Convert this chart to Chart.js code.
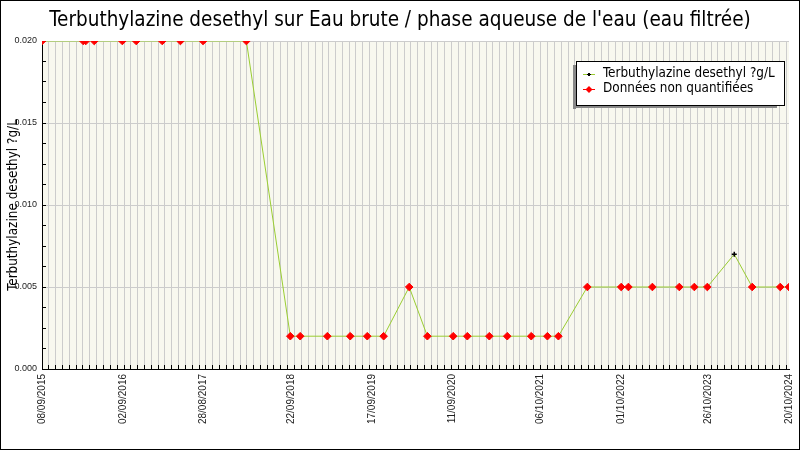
<!DOCTYPE html>
<html>
<head>
<meta charset="utf-8">
<script src="https://cdn.jsdelivr.net/npm/chart.js@4.4.1/dist/chart.umd.min.js"></script>
<style>
  html, body { margin: 0; padding: 0; background: #fff; }
  #wrap { width: 800px; height: 450px; }
</style>
</head>
<body>
<div id="wrap"><canvas id="chart" width="800" height="450"></canvas></div>
<script>
// Chart data
const chartTitle = "Terbuthylazine desethyl sur Eau brute / phase aqueuse de l'eau (eau filtrée)";
const seriesLabel = 'Terbuthylazine desethyl ?g/L';
const nqLabel = 'Données non quantifiées';

const sampleDates = [
  '2015-09-08', '2016-03-10', '2016-03-21', '2016-04-28', '2016-08-31', '2016-11-01',
  '2017-02-25', '2017-05-17', '2017-08-26', '2018-03-07', '2018-09-19', '2018-11-02',
  '2019-03-03', '2019-06-13', '2019-08-28', '2019-11-09', '2020-03-02', '2020-05-22',
  '2020-09-14', '2020-11-16', '2021-02-22', '2021-05-13', '2021-08-28', '2021-11-08',
  '2021-12-27', '2022-05-05', '2022-10-03', '2022-11-04', '2023-02-19', '2023-06-19',
  '2023-08-25', '2023-10-22', '2024-02-19', '2024-05-09', '2024-09-11', '2024-10-20'
];
const sampleValues = [
  0.020, 0.020, 0.020, 0.020, 0.020, 0.020,
  0.020, 0.020, 0.020, 0.020, 0.002, 0.002,
  0.002, 0.002, 0.002, 0.002, 0.005, 0.002,
  0.002, 0.002, 0.002, 0.002, 0.002, 0.002,
  0.002, 0.005, 0.005, 0.005, 0.005, 0.005,
  0.005, 0.005, 0.007, 0.005, 0.005, 0.005
];
// true = quantified value, false = below quantification limit
const quantified = [
  false, false, false, false, false, false,
  false, false, false, false, false, false,
  false, false, false, false, false, false,
  false, false, false, false, false, false,
  false, false, false, false, false, false,
  false, false, true, false, false, false
];
const xTickLabels = [
  '08/09/2015', '02/09/2016', '28/08/2017', '22/09/2018', '17/09/2019',
  '11/09/2020', '06/10/2021', '01/10/2022', '26/10/2023', '20/10/2024'
];
const yMin = 0;
const yMax = 0.020;
const yMajorStep = 0.005;
const yMinorStep = 0.00125;

// helpers: dates -> day number from the first axis label
const DAY = 86400000;
function parseFr(s) {
  const [d, m, y] = s.split('/').map(Number);
  return Date.UTC(y, m - 1, d);
}
function parseIso(s) {
  const [y, m, d] = s.split('-').map(Number);
  return Date.UTC(y, m - 1, d);
}
const startMs = parseFr(xTickLabels[0]);
const endDay = (parseFr(xTickLabels[xTickLabels.length - 1]) - startMs) / DAY;
const toDay = ms => Math.round((ms - startMs) / DAY);

const allPoints = sampleDates.map((d, i) => ({ x: toDay(parseIso(d)), y: sampleValues[i] }));
const nqPoints = allPoints.filter((p, i) => !quantified[i]);

// monthly grid ticks + labelled ticks
function buildXTicks() {
  const map = new Map();
  const s = new Date(startMs);
  for (let k = 0; ; k++) {
    const v = toDay(Date.UTC(s.getUTCFullYear(), s.getUTCMonth() + k, s.getUTCDate()));
    if (v > endDay) break;
    map.set(v, { value: v, grid: true, text: '' });
  }
  xTickLabels.forEach(lbl => {
    const v = toDay(parseFr(lbl));
    const t = map.get(v) || { value: v, grid: false, text: '' };
    t.text = lbl;
    map.set(v, t);
  });
  return Array.from(map.values()).sort((a, b) => a.value - b.value);
}

function buildYTicks() {
  const ticks = [];
  const n = Math.round((yMax - yMin) / yMinorStep);
  for (let k = 0; k <= n; k++) {
    const v = yMin + k * yMinorStep;
    const r = v / yMajorStep;
    ticks.push({ value: v, major: Math.abs(r - Math.round(r)) < 1e-6 });
  }
  return ticks;
}

const SANS = '"DejaVu Sans Condensed", "DejaVu Sans", sans-serif';
const LEGEND_FONT = '13.4px ' + SANS;

const frame = {
  id: 'frame',
  beforeDraw(chart) {
    const { ctx, chartArea: a } = chart;
    ctx.save();
    ctx.fillStyle = '#ffffff';
    ctx.fillRect(0, 0, chart.width, chart.height);
    ctx.fillStyle = '#f8f8ef';
    ctx.fillRect(a.left, a.top, a.right - a.left, a.bottom - a.top);
    ctx.restore();
  },
  afterDraw(chart) {
    const { ctx } = chart;
    ctx.save();
    // outer border
    ctx.strokeStyle = '#000';
    ctx.lineWidth = 1;
    ctx.strokeRect(0.5, 0.5, chart.width - 1, chart.height - 1);

    // legend box
    const bx = 576, by = 61, bw = 208, bh = 44;
    ctx.fillStyle = '#888888';
    ctx.fillRect(bx - 3, by + 4, 3, bh);
    ctx.fillRect(bx - 3, by + bh, bw - 4, 3);
    ctx.fillStyle = '#ffffff';
    ctx.fillRect(bx, by, bw, bh);
    ctx.strokeStyle = '#000';
    ctx.strokeRect(bx + 0.5, by + 0.5, bw, bh);

    const rows = [
      { text: seriesLabel, line: '#9acd32', mark: 'dot', y: by + 13 },
      { text: nqLabel, line: '#ff0000', mark: 'diamond', y: by + 28 }
    ];
    rows.forEach(r => {
      ctx.strokeStyle = r.line;
      ctx.lineWidth = 1;
      ctx.beginPath();
      ctx.moveTo(bx + 7, r.y + 0.5);
      ctx.lineTo(bx + 19, r.y + 0.5);
      ctx.stroke();
      if (r.mark === 'dot') {
        ctx.fillStyle = '#000';
        ctx.fillRect(bx + 12, r.y - 1, 2, 3);
        ctx.fillRect(bx + 11, r.y, 4, 1);
      } else {
        ctx.fillStyle = '#ff0000';
        ctx.beginPath();
        ctx.moveTo(bx + 13, r.y - 3);
        ctx.lineTo(bx + 16.5, r.y + 0.5);
        ctx.lineTo(bx + 13, r.y + 4);
        ctx.lineTo(bx + 9.5, r.y + 0.5);
        ctx.closePath();
        ctx.fill();
      }
      ctx.fillStyle = '#000';
      ctx.font = LEGEND_FONT;
      ctx.textBaseline = 'middle';
      ctx.textAlign = 'left';
      ctx.fillText(r.text, bx + 27, r.y);
    });
    ctx.restore();
  }
};

new Chart(document.getElementById('chart'), {
  type: 'scatter',
  data: {
    datasets: [
      {
        label: seriesLabel,
        data: allPoints,
        showLine: true,
        borderColor: '#9acd32',
        borderWidth: 1,
        tension: 0,
        pointStyle: 'cross',
        pointRadius: allPoints.map((p, i) => quantified[i] ? 2.5 : 0),
        pointBorderColor: '#000',
        pointBackgroundColor: '#000',
        pointBorderWidth: 1.5,
        order: 2
      },
      {
        label: nqLabel,
        data: nqPoints,
        showLine: false,
        pointStyle: 'rectRot',
        pointRadius: 3.8,
        pointBackgroundColor: '#ff0000',
        pointBorderColor: '#ff0000',
        pointBorderWidth: 1,
        order: 1
      }
    ]
  },
  options: {
    responsive: false,
    animation: false,
    layout: { padding: 0 },
    plugins: {
      legend: { display: false },
      tooltip: { enabled: false },
      title: {
        display: true,
        text: chartTitle,
        color: '#000',
        font: { family: SANS, size: 20.5, weight: 'normal' },
        padding: { top: 8, bottom: 8.4 }
      }
    },
    scales: {
      x: {
        type: 'linear',
        min: 0,
        max: endDay,
        afterBuildTicks: scale => { scale.ticks = buildXTicks(); },
        afterFit: scale => {
          scale.height = 81;
          scale.paddingLeft = 0;
          scale.paddingRight = 11;
        },
        border: { color: '#000', width: 1 },
        grid: {
          color: c => (c.tick && c.tick.grid ? '#cccccc' : 'rgba(0,0,0,0)'),
          tickColor: c => (c.tick && c.tick.grid ? '#000' : 'rgba(0,0,0,0)'),
          drawTicks: true,
          tickLength: -4
        },
        ticks: {
          autoSkip: false,
          minRotation: 90,
          maxRotation: 90,
          padding: 9,
          color: '#222',
          font: { family: '"Liberation Sans", Arial, sans-serif', size: 10 },
          callback: (v, i, ticks) => ticks[i].text || ''
        }
      },
      y: {
        min: yMin,
        max: yMax,
        afterBuildTicks: scale => { scale.ticks = buildYTicks(); },
        afterFit: scale => {
          scale.width = 42;
          scale.paddingTop = 0;
          scale.paddingBottom = 0;
        },
        border: { color: '#000', width: 1 },
        grid: {
          color: c => (c.tick && c.tick.major && c.tick.value > yMin ? '#cccccc' : 'rgba(0,0,0,0)'),
          tickColor: '#000',
          drawTicks: true,
          tickLength: -4
        },
        ticks: {
          padding: 9,
          color: '#222',
          font: { family: '"Liberation Sans", Arial, sans-serif', size: 9 },
          callback: (v, i, ticks) => (ticks[i].major ? Number(v).toFixed(3) : '')
        },
        title: {
          display: true,
          text: seriesLabel,
          color: '#000',
          font: { family: SANS, size: 13.4 },
          padding: { top: 5, bottom: 0 }
        }
      }
    }
  },
  plugins: [frame]
});
</script>
</body>
</html>
